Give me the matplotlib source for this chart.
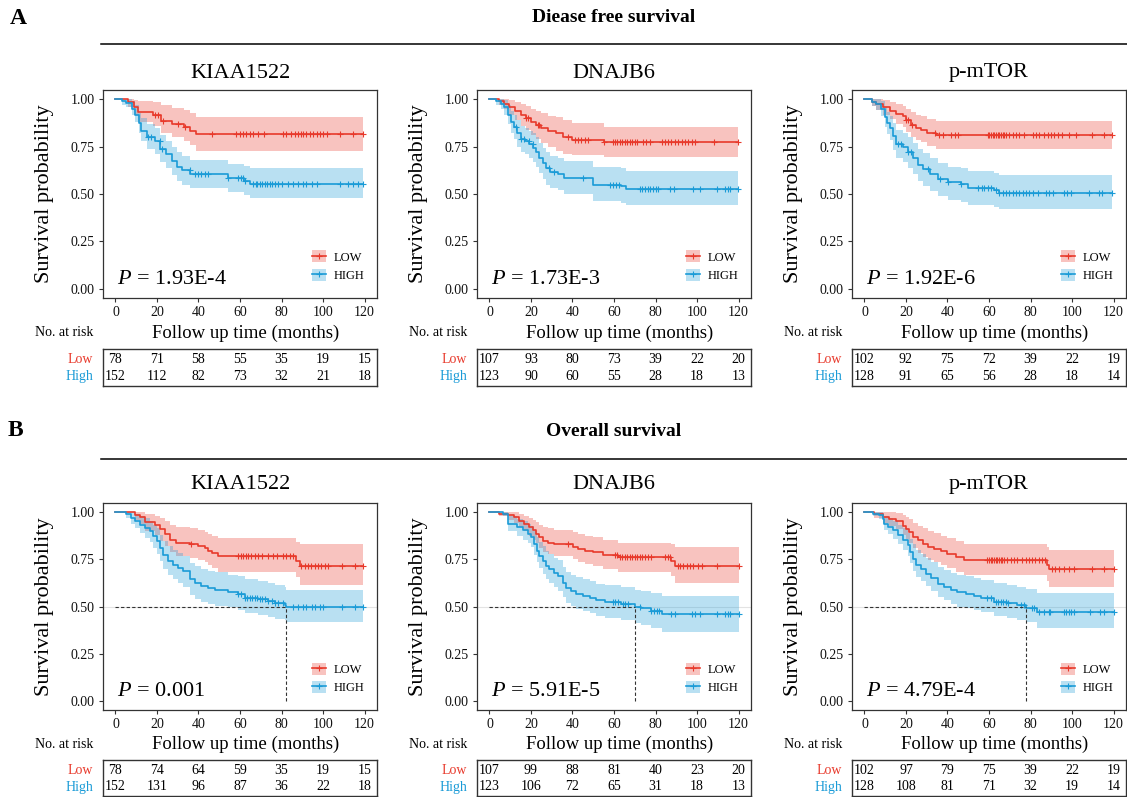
import numpy as np
import matplotlib
matplotlib.use("Agg")
import matplotlib.pyplot as plt
from matplotlib.lines import Line2D
from matplotlib.patches import Patch

plt.rcParams['font.family'] = ['Liberation Serif', 'DejaVu Serif']
plt.rcParams['mathtext.fontset'] = 'custom'
plt.rcParams['mathtext.rm'] = 'Liberation Serif'
plt.rcParams['mathtext.it'] = 'Liberation Serif:italic'

# ---------------- data ----------------
genes = ["KIAA1522", "DNAJB6", "p-mTOR"]
risk_times = [0, 20, 40, 60, 80, 100, 120]

# Disease free survival
dfs_p = ["1.93E-4", "1.73E-3", "1.92E-6"]
dfs_risk_low = [[78, 71, 58, 55, 35, 19, 15], [107, 93, 80, 73, 39, 22, 20], [102, 92, 75, 72, 39, 22, 19]]
dfs_risk_high = [[152, 112, 82, 73, 32, 21, 18], [123, 90, 60, 55, 28, 18, 13], [128, 91, 65, 56, 28, 18, 14]]

# Overall survival
os_p = ["0.001", "5.91E-5", "4.79E-4"]
os_risk_low = [[78, 74, 64, 59, 35, 19, 15], [107, 99, 88, 81, 40, 23, 20], [102, 97, 79, 75, 39, 22, 19]]
os_risk_high = [[152, 131, 96, 87, 36, 22, 18], [123, 106, 72, 65, 31, 18, 13], [128, 108, 81, 71, 32, 19, 14]]

# DFS KIAA1522
dfs_kiaa_low_t = [0, 6, 9, 11, 18, 22, 27, 33, 36, 39]
dfs_kiaa_low_s = [1.0, 0.987, 0.96, 0.935, 0.92, 0.885, 0.87, 0.855, 0.835, 0.815]
dfs_kiaa_low_up = [1, 1, 0.995, 0.99, 0.985, 0.97, 0.955, 0.945, 0.93, 0.905]
dfs_kiaa_low_lo = [1, 0.96, 0.92, 0.88, 0.86, 0.82, 0.80, 0.78, 0.76, 0.73]
dfs_kiaa_low_cens = [19, 20.6, 23, 30.2, 33.4, 46.3, 58.3, 60, 61.5, 63.1, 64.7, 66.3, 68.8, 71.6, 80.8, 82.4,
                     84.8, 86.4, 88, 89.3, 90.4, 92, 93.7, 95.3, 96.9, 98.5, 100, 102, 108, 114.5, 119.4]
dfs_kiaa_high_t = [0, 3, 5, 8, 9.5, 11.5, 12.5, 15, 19, 21.5, 24.5, 27, 29.5, 32, 36, 54, 62, 65]
dfs_kiaa_high_s = [1.0, 0.99, 0.98, 0.95, 0.92, 0.875, 0.835, 0.80, 0.78, 0.74, 0.71, 0.675, 0.645, 0.625,
                   0.605, 0.585, 0.57, 0.555]
dfs_kiaa_high_up = [1, 1, 1, 0.99, 0.97, 0.93, 0.90, 0.87, 0.85, 0.81, 0.78, 0.75, 0.72, 0.70, 0.68, 0.66, 0.65, 0.637]
dfs_kiaa_high_lo = [1, 0.97, 0.96, 0.92, 0.88, 0.82, 0.78, 0.74, 0.71, 0.67, 0.64, 0.60, 0.57, 0.55, 0.53, 0.51,
                    0.495, 0.478]
dfs_kiaa_high_cens = [15.7, 17.3, 21.4, 22.2, 35.8, 38.2, 39.8, 41.4, 43, 44.6, 54.3, 59.1, 60.7, 61.5, 62.3, 66.3,
                      67.5, 68.4, 69.6, 70.7, 72, 73.1, 74.4, 75.5, 76.8, 78.4, 80, 83.2, 85.6, 88, 90.4, 92, 94.5,
                      96.9, 108, 112, 114.5, 117, 119.4]

# DFS DNAJB6
dfs_dnaj_low_t = [0, 4.7, 7, 9.5, 12.5, 15, 17.5, 20, 22.5, 25, 28, 32, 35.5, 40, 55]
dfs_dnaj_low_s = [1, 0.99, 0.976, 0.96, 0.94, 0.92, 0.90, 0.88, 0.867, 0.85, 0.833, 0.82, 0.80, 0.786, 0.774]
dfs_dnaj_low_up = [1, 1, 1, 0.995, 0.985, 0.975, 0.965, 0.95, 0.94, 0.93, 0.915, 0.905, 0.89, 0.875, 0.855]
dfs_dnaj_low_lo = [1, 0.97, 0.95, 0.92, 0.89, 0.86, 0.84, 0.81, 0.79, 0.77, 0.75, 0.73, 0.71, 0.705, 0.695]
dfs_dnaj_low_cens = [17.6, 18.4, 23.2, 24, 37.7, 41, 42.6, 44.2, 45.8, 47.4, 55.2, 59.5, 60.6, 61.6, 62.7, 63.9,
                     65.2, 66.3, 67.6, 68.7, 70, 71.3, 74, 75.6, 77.3, 82.9, 84.5, 86.1, 87.7, 89.4, 91, 92.6,
                     94.2, 95.8, 97.4, 99, 108.4, 119.7]
dfs_dnaj_high_t = [0, 3, 5.5, 7, 9, 10.3, 12, 13.5, 15, 17, 19.2, 21, 22.5, 24, 25.6, 27.3, 29, 33, 36, 50, 63.5, 66]
dfs_dnaj_high_s = [1, 0.99, 0.976, 0.96, 0.92, 0.88, 0.855, 0.82, 0.79, 0.78, 0.763, 0.745, 0.72, 0.69, 0.665,
                   0.635, 0.618, 0.604, 0.584, 0.55, 0.54, 0.525]
dfs_dnaj_high_up = [1, 1, 1, 0.995, 0.97, 0.94, 0.92, 0.89, 0.86, 0.85, 0.835, 0.82, 0.80, 0.77, 0.745, 0.72, 0.70,
                    0.69, 0.675, 0.645, 0.635, 0.62]
dfs_dnaj_high_lo = [1, 0.97, 0.95, 0.92, 0.87, 0.82, 0.79, 0.75, 0.72, 0.71, 0.69, 0.67, 0.645, 0.61, 0.58, 0.55,
                    0.53, 0.52, 0.50, 0.465, 0.455, 0.44]
dfs_dnaj_high_cens = [13, 15, 16.5, 19, 20.8, 28.9, 31, 45, 58, 59.5, 61, 62.5, 72.5, 73.5, 75, 76.5, 77.5, 79, 80,
                      81, 87, 89, 98, 101.5, 109.5, 113.5, 115, 116, 119.7]

# DFS p-mTOR
dfs_mtor_low_t = [0, 3.4, 5.8, 9, 12.2, 15.4, 18.6, 20.2, 22.6, 25, 27.4, 30.2, 34.6]
dfs_mtor_low_s = [1, 0.988, 0.975, 0.958, 0.94, 0.924, 0.91, 0.89, 0.865, 0.85, 0.84, 0.823, 0.813]
dfs_mtor_low_up = [1, 1, 1, 0.995, 0.985, 0.975, 0.965, 0.95, 0.935, 0.92, 0.91, 0.895, 0.885]
dfs_mtor_low_lo = [1, 0.965, 0.945, 0.92, 0.895, 0.87, 0.855, 0.83, 0.80, 0.785, 0.775, 0.755, 0.74]
dfs_mtor_low_cens = [20.2, 21, 23, 33.8, 35.7, 37.8, 41.8, 43.7, 45, 59.4, 60.2, 61, 61.8, 62.6, 63.4, 64.2, 65,
                     65.8, 66.6, 67.4, 68.2, 69.8, 71.4, 73, 74.6, 77, 81, 82.6, 84.2, 86.6, 88.2, 89.8, 91.4, 93,
                     95.4, 98.6, 101.8, 109.8, 115.4, 119.4]
dfs_mtor_high_t = [0, 3.4, 5.8, 8.2, 9.8, 11, 12.2, 13.8, 15.4, 18.6, 21, 23.4, 25.8, 28.2, 31.4, 35.4, 40.2, 46.6,
                   49.8, 62.6, 65]
dfs_mtor_high_s = [1, 0.988, 0.975, 0.95, 0.907, 0.874, 0.85, 0.806, 0.764, 0.747, 0.722, 0.69, 0.655, 0.63, 0.604,
                   0.58, 0.562, 0.554, 0.534, 0.52, 0.505]
dfs_mtor_high_up = [1, 1, 1, 0.99, 0.96, 0.935, 0.915, 0.875, 0.84, 0.825, 0.80, 0.77, 0.74, 0.715, 0.69, 0.665,
                    0.645, 0.635, 0.62, 0.61, 0.60]
dfs_mtor_high_lo = [1, 0.965, 0.945, 0.91, 0.855, 0.815, 0.785, 0.735, 0.69, 0.67, 0.64, 0.605, 0.57, 0.54, 0.515,
                    0.49, 0.47, 0.46, 0.44, 0.43, 0.42]
dfs_mtor_high_cens = [16.2, 17.8, 21, 22.6, 30.6, 36.2, 40.2, 46.6, 54.6, 56.5, 57.8, 59.4, 61, 63.4, 65, 66.6,
                      68.2, 69.8, 71.4, 73, 74.6, 76.2, 77.8, 79.4, 81, 83.4, 87.4, 89, 90.6, 96.2, 97.8, 99.4,
                      108.2, 113, 114.6, 119.4]

# OS KIAA1522
os_kiaa_low_t = [0, 9.3, 11.7, 14, 19, 21.4, 23.8, 26.2, 29.4, 36, 40, 43, 44.6, 46.3, 49.5, 87, 89]
os_kiaa_low_s = [1, 0.987, 0.974, 0.948, 0.935, 0.91, 0.883, 0.855, 0.838, 0.83, 0.82, 0.81, 0.795, 0.785, 0.768,
                 0.74, 0.715]
os_kiaa_low_up = [1, 1, 1, 0.99, 0.98, 0.97, 0.955, 0.935, 0.92, 0.915, 0.905, 0.895, 0.885, 0.875, 0.865, 0.845,
                  0.83]
os_kiaa_low_lo = [1, 0.96, 0.94, 0.90, 0.88, 0.85, 0.82, 0.79, 0.77, 0.76, 0.745, 0.735, 0.72, 0.705, 0.685, 0.655,
                  0.615]
os_kiaa_low_cens = [36.6, 59.1, 60.4, 61.5, 62.7, 63.9, 65.5, 67.1, 68.8, 70.4, 73.6, 76, 77.6, 80.8, 82.4, 84,
                    85.6, 89.6, 91.2, 92.8, 94.4, 96, 97.6, 99.2, 100.8, 102.4, 109, 115.3, 119.4]
os_kiaa_high_t = [0, 5.3, 7.7, 9.3, 11.7, 14.1, 16.5, 18.2, 19.8, 21.4, 23, 25.4, 27.8, 30.2, 32.6, 35.8, 38.2,
                  41.4, 44.6, 47.9, 54.3, 59.1, 62.3, 68.8, 73.6, 76.8, 81.6, 82.4]
os_kiaa_high_s = [1, 0.99, 0.97, 0.952, 0.935, 0.917, 0.90, 0.873, 0.847, 0.81, 0.776, 0.74, 0.723, 0.705, 0.688,
                  0.644, 0.626, 0.608, 0.596, 0.59, 0.578, 0.564, 0.546, 0.538, 0.529, 0.52, 0.51, 0.499]
os_kiaa_high_up = [1, 1, 1, 0.99, 0.98, 0.97, 0.955, 0.935, 0.915, 0.88, 0.85, 0.82, 0.80, 0.785, 0.77, 0.73,
                   0.715, 0.70, 0.69, 0.685, 0.67, 0.66, 0.645, 0.635, 0.625, 0.615, 0.605, 0.59]
os_kiaa_high_lo = [1, 0.97, 0.94, 0.915, 0.89, 0.865, 0.845, 0.81, 0.78, 0.74, 0.70, 0.665, 0.645, 0.625, 0.605,
                   0.56, 0.54, 0.525, 0.515, 0.505, 0.495, 0.48, 0.465, 0.455, 0.445, 0.435, 0.43, 0.42]
os_kiaa_high_cens = [59.1, 60.7, 62.3, 63.5, 64.7, 65.9, 67.1, 68.3, 69.6, 70.7, 72, 73.6, 75.2, 76.8, 78.4, 80.8,
                     85.6, 88, 90.4, 92, 94.5, 96.1, 98.5, 100.1, 109, 115.3, 119.4]

# OS DNAJB6
os_dnaj_low_t = [0, 4.7, 8.7, 11.9, 14.4, 16.8, 19.2, 20.8, 22.4, 24, 25.6, 28, 31.3, 40.2, 42.6, 45.8, 49.8, 54.7,
                 62, 87.7, 89.4]
os_dnaj_low_s = [1, 0.993, 0.984, 0.975, 0.957, 0.94, 0.92, 0.904, 0.886, 0.868, 0.85, 0.84, 0.832, 0.818, 0.806,
                 0.797, 0.788, 0.774, 0.761, 0.743, 0.717]
os_dnaj_low_up = [1, 1, 1, 1, 0.99, 0.98, 0.97, 0.96, 0.95, 0.935, 0.92, 0.915, 0.905, 0.895, 0.885, 0.875, 0.87,
                  0.855, 0.84, 0.83, 0.815]
os_dnaj_low_lo = [1, 0.98, 0.96, 0.945, 0.92, 0.90, 0.875, 0.855, 0.835, 0.81, 0.79, 0.78, 0.77, 0.75, 0.735, 0.725,
                  0.715, 0.70, 0.685, 0.66, 0.625]
os_dnaj_low_cens = [37.7, 60.4, 61.6, 62.8, 63.9, 65.2, 66.3, 67.6, 68.7, 70, 71.3, 72.5, 73.5, 74.8, 76.5, 78,
                    84.5, 86.1, 87, 90.7, 91.8, 93.4, 95, 96.6, 98.2, 100.6, 102.3, 109.5, 120]
os_dnaj_high_t = [0, 6.3, 9, 13.5, 16, 18.4, 20, 21.6, 22.9, 24, 25.6, 27.3, 28.9, 31, 32.9, 35.3, 37, 39.4, 41.8,
                  45, 48.2, 51.5, 55.5, 63.5, 70.3, 73.2, 78, 83]
os_dnaj_high_s = [1, 0.993, 0.94, 0.92, 0.904, 0.886, 0.868, 0.832, 0.797, 0.77, 0.743, 0.717, 0.70, 0.68, 0.663,
                  0.627, 0.597, 0.583, 0.565, 0.556, 0.547, 0.532, 0.525, 0.515, 0.498, 0.49, 0.476, 0.458]
os_dnaj_high_up = [1, 1, 0.98, 0.965, 0.955, 0.94, 0.93, 0.90, 0.87, 0.845, 0.82, 0.795, 0.78, 0.76, 0.745, 0.71,
                   0.685, 0.67, 0.655, 0.645, 0.635, 0.62, 0.615, 0.605, 0.59, 0.58, 0.57, 0.555]
os_dnaj_high_lo = [1, 0.98, 0.90, 0.875, 0.855, 0.835, 0.815, 0.775, 0.735, 0.705, 0.675, 0.645, 0.625, 0.605,
                   0.585, 0.55, 0.52, 0.505, 0.485, 0.475, 0.465, 0.45, 0.44, 0.43, 0.41, 0.40, 0.385, 0.365]
os_dnaj_high_cens = [59.5, 60.6, 61.9, 64.4, 65.5, 66.8, 72.4, 78, 79.2, 80.5, 81.6, 87.7, 89.4, 97.4, 99, 101.5,
                     109.5, 113.5, 114.8, 116, 120]

# OS p-mTOR
os_mtor_low_t = [0, 4.8, 8.8, 12, 15.2, 18.4, 20, 21.6, 23.2, 25.6, 28, 30.4, 33.6, 36.8, 40, 44, 48, 88, 89]
os_mtor_low_s = [1, 0.99, 0.975, 0.966, 0.952, 0.93, 0.914, 0.896, 0.87, 0.852, 0.834, 0.817, 0.808, 0.794, 0.78,
                 0.764, 0.746, 0.72, 0.698]
os_mtor_low_up = [1, 1, 1, 1, 0.995, 0.985, 0.975, 0.965, 0.945, 0.93, 0.915, 0.90, 0.89, 0.875, 0.865, 0.85, 0.83,
                  0.815, 0.80]
os_mtor_low_lo = [1, 0.97, 0.945, 0.93, 0.91, 0.88, 0.86, 0.835, 0.81, 0.785, 0.765, 0.745, 0.735, 0.72, 0.705,
                  0.685, 0.665, 0.635, 0.605]
os_mtor_low_cens = [59.2, 60, 60.8, 61.6, 62.4, 63.2, 64, 64.8, 65.6, 66.4, 67.2, 68.8, 70.4, 72, 73.6, 76, 77.6,
                    79.2, 80.8, 82.4, 84, 85.6, 87.2, 90.4, 92, 93.6, 96, 98.4, 100.8, 109.6, 115.2, 120]
os_mtor_high_t = [0, 4, 7.2, 8.8, 9.6, 11.2, 13.6, 16, 18.4, 20.8, 22.1, 23.2, 24.8, 27.2, 29.6, 32, 35.2, 38.4,
                  41.6, 44.8, 48.8, 52.8, 56, 62.4, 68.8, 73.6, 78, 83]
os_mtor_high_s = [1, 0.993, 0.985, 0.966, 0.94, 0.922, 0.905, 0.878, 0.852, 0.825, 0.79, 0.755, 0.72, 0.70, 0.675,
                  0.65, 0.622, 0.605, 0.587, 0.575, 0.564, 0.557, 0.543, 0.526, 0.517, 0.508, 0.494, 0.469]
os_mtor_high_up = [1, 1, 1, 0.995, 0.98, 0.97, 0.955, 0.935, 0.915, 0.89, 0.86, 0.83, 0.80, 0.78, 0.76, 0.735,
                   0.71, 0.695, 0.68, 0.67, 0.66, 0.65, 0.64, 0.625, 0.615, 0.605, 0.595, 0.57]
os_mtor_high_lo = [1, 0.98, 0.965, 0.94, 0.905, 0.885, 0.86, 0.83, 0.80, 0.77, 0.73, 0.69, 0.655, 0.635, 0.61,
                   0.58, 0.55, 0.535, 0.515, 0.50, 0.49, 0.48, 0.47, 0.45, 0.44, 0.43, 0.415, 0.385]
os_mtor_high_cens = [59.2, 60.8, 63.2, 64.3, 65.6, 66.7, 68, 69.1, 75.2, 76.8, 80.8, 81.6, 84, 86.4, 88.8, 89.6, 96,
                     97.3, 98.4, 99.5, 100.8, 108.8, 113.6, 115.2, 120]

# ---------------- styling ----------------
RED = '#E8392B'
BLUE = '#1A9BD7'
FRAME = '#333333'
W, H = 1127, 797

dfs_curves = [
    ((dfs_kiaa_low_t, dfs_kiaa_low_s, dfs_kiaa_low_up, dfs_kiaa_low_lo, dfs_kiaa_low_cens),
     (dfs_kiaa_high_t, dfs_kiaa_high_s, dfs_kiaa_high_up, dfs_kiaa_high_lo, dfs_kiaa_high_cens)),
    ((dfs_dnaj_low_t, dfs_dnaj_low_s, dfs_dnaj_low_up, dfs_dnaj_low_lo, dfs_dnaj_low_cens),
     (dfs_dnaj_high_t, dfs_dnaj_high_s, dfs_dnaj_high_up, dfs_dnaj_high_lo, dfs_dnaj_high_cens)),
    ((dfs_mtor_low_t, dfs_mtor_low_s, dfs_mtor_low_up, dfs_mtor_low_lo, dfs_mtor_low_cens),
     (dfs_mtor_high_t, dfs_mtor_high_s, dfs_mtor_high_up, dfs_mtor_high_lo, dfs_mtor_high_cens)),
]
os_curves = [
    ((os_kiaa_low_t, os_kiaa_low_s, os_kiaa_low_up, os_kiaa_low_lo, os_kiaa_low_cens),
     (os_kiaa_high_t, os_kiaa_high_s, os_kiaa_high_up, os_kiaa_high_lo, os_kiaa_high_cens)),
    ((os_dnaj_low_t, os_dnaj_low_s, os_dnaj_low_up, os_dnaj_low_lo, os_dnaj_low_cens),
     (os_dnaj_high_t, os_dnaj_high_s, os_dnaj_high_up, os_dnaj_high_lo, os_dnaj_high_cens)),
    ((os_mtor_low_t, os_mtor_low_s, os_mtor_low_up, os_mtor_low_lo, os_mtor_low_cens),
     (os_mtor_high_t, os_mtor_high_s, os_mtor_high_up, os_mtor_high_lo, os_mtor_high_cens)),
]

fig = plt.figure(figsize=(W / 100, H / 100), dpi=100)


def px_axes(left, top, width, height):
    return fig.add_axes([left / W, 1 - (top + height) / H, width / W, height / H])


def draw_km(ax, curve, color):
    t, s, up, lo, cens = [np.asarray(a, dtype=float) for a in curve]
    t_end = max(cens.max(), t[-1])
    x = np.append(t, t_end)
    ax.fill_between(x, np.append(lo, lo[-1]), np.append(up, up[-1]), step='post',
                    color=color, alpha=0.3, lw=0, zorder=1)
    ax.step(x, np.append(s, s[-1]), where='post', color=color, lw=1.2, zorder=3)
    idx = np.searchsorted(t, cens, side='right') - 1
    ax.plot(cens, s[idx], ls='none', marker='+', ms=5, mew=0.8, color=color, zorder=4)


def km_panel(left, top, height, name, curves, pval, title_pad, show_median):
    ax = px_axes(left, top, 274, height)
    low, high = curves
    if show_median:
        ax.axhline(0.5, color='#e3e3e3', lw=0.8, zorder=0)
    draw_km(ax, low, RED)
    draw_km(ax, high, BLUE)
    if show_median:
        ht = np.asarray(high[0]); hs = np.asarray(high[1])
        med = ht[np.argmax(hs <= 0.5)]
        ax.plot([0, med], [0.5, 0.5], ls=(0, (3, 2)), color=FRAME, lw=0.8, zorder=5)
        ax.plot([med, med], [0, 0.5], ls=(0, (3, 2)), color=FRAME, lw=0.8, zorder=5)
    ax.set_xlim(-6, 126)
    ax.set_ylim(-0.05, 1.05)
    ax.set_xticks(risk_times)
    ax.set_yticks([0, 0.25, 0.5, 0.75, 1.0])
    ax.set_yticklabels(['0.00', '0.25', '0.50', '0.75', '1.00'])
    ax.tick_params(labelsize=10, length=3, width=0.8, color=FRAME, labelcolor='#111111', pad=3)
    for sp in ax.spines.values():
        sp.set_color(FRAME)
        sp.set_linewidth(0.9)
    ax.set_title(name, fontsize=16, pad=title_pad)
    ax.set_ylabel('Survival probability', fontsize=16)
    ax.yaxis.set_label_coords(-0.215, 0.5)
    ax.yaxis.label.set_va('center')
    ax.set_xlabel('Follow up time (months)', fontsize=13.5)
    ax.xaxis.set_label_coords(0.52, -0.168)
    ax.xaxis.label.set_va('center')
    ax.text(-0.036, -0.168, 'No. at risk', transform=ax.transAxes, ha='right', va='center', fontsize=10)
    ax.text(0.05, 0.045, '$P$ = ' + pval, transform=ax.transAxes, ha='left', va='bottom', fontsize=16)
    handles = [(Patch(facecolor=RED, alpha=0.3, edgecolor='none'),
                Line2D([], [], color=RED, lw=1.2, marker='+', ms=5, mew=0.8)),
               (Patch(facecolor=BLUE, alpha=0.3, edgecolor='none'),
                Line2D([], [], color=BLUE, lw=1.2, marker='+', ms=5, mew=0.8))]
    ax.legend(handles, ['LOW', 'HIGH'], loc='lower right', bbox_to_anchor=(0.985, 0.035), frameon=False,
              fontsize=9, handlelength=1.1, handleheight=1.1, handletextpad=0.6, labelspacing=0.4,
              borderpad=0.2)
    return ax


def risk_table(left, top, height, low_counts, high_counts):
    ax = px_axes(left, top, 274, height)
    ax.set_xlim(-6, 126)
    ax.set_ylim(0, 1)
    ax.set_xticks([])
    ax.set_yticks([])
    for sp in ax.spines.values():
        sp.set_color(FRAME)
        sp.set_linewidth(1.0)
    for tt, n in zip(risk_times, low_counts):
        ax.text(tt, 0.72, str(n), ha='center', va='center', fontsize=10)
    for tt, n in zip(risk_times, high_counts):
        ax.text(tt, 0.25, str(n), ha='center', va='center', fontsize=10)
    ax.text(-0.036, 0.72, 'Low', color=RED, transform=ax.transAxes, ha='right', va='center', fontsize=10)
    ax.text(-0.036, 0.25, 'High', color=BLUE, transform=ax.transAxes, ha='right', va='center', fontsize=10)


lefts = [103, 477, 852]

# row A: disease free survival
fig.text(10 / W, 1 - 19 / H, 'A', fontsize=17, fontweight='bold', ha='left', va='center')
fig.text(614 / W, 1 - 18 / H, 'Diease free survival', fontsize=14, fontweight='bold', ha='center', va='center')
fig.add_artist(Line2D([101 / W, 1.0], [1 - 44 / H, 1 - 44 / H], color='black', lw=1.1))
for i in range(3):
    km_panel(lefts[i], 90, 208, genes[i], dfs_curves[i], dfs_p[i], 9, False)
    risk_table(lefts[i], 349, 37, dfs_risk_low[i], dfs_risk_high[i])

# row B: overall survival
fig.text(8 / W, 1 - 430 / H, 'B', fontsize=17, fontweight='bold', ha='left', va='center')
fig.text(614 / W, 1 - 432 / H, 'Overall survival', fontsize=14, fontweight='bold', ha='center', va='center')
fig.add_artist(Line2D([101 / W, 1.0], [1 - 459 / H, 1 - 459 / H], color='black', lw=1.1))
for i in range(3):
    km_panel(lefts[i], 503, 207, genes[i], os_curves[i], os_p[i], 10, True)
    risk_table(lefts[i], 760, 36, os_risk_low[i], os_risk_high[i])

fig.savefig('out.png', dpi=100)
